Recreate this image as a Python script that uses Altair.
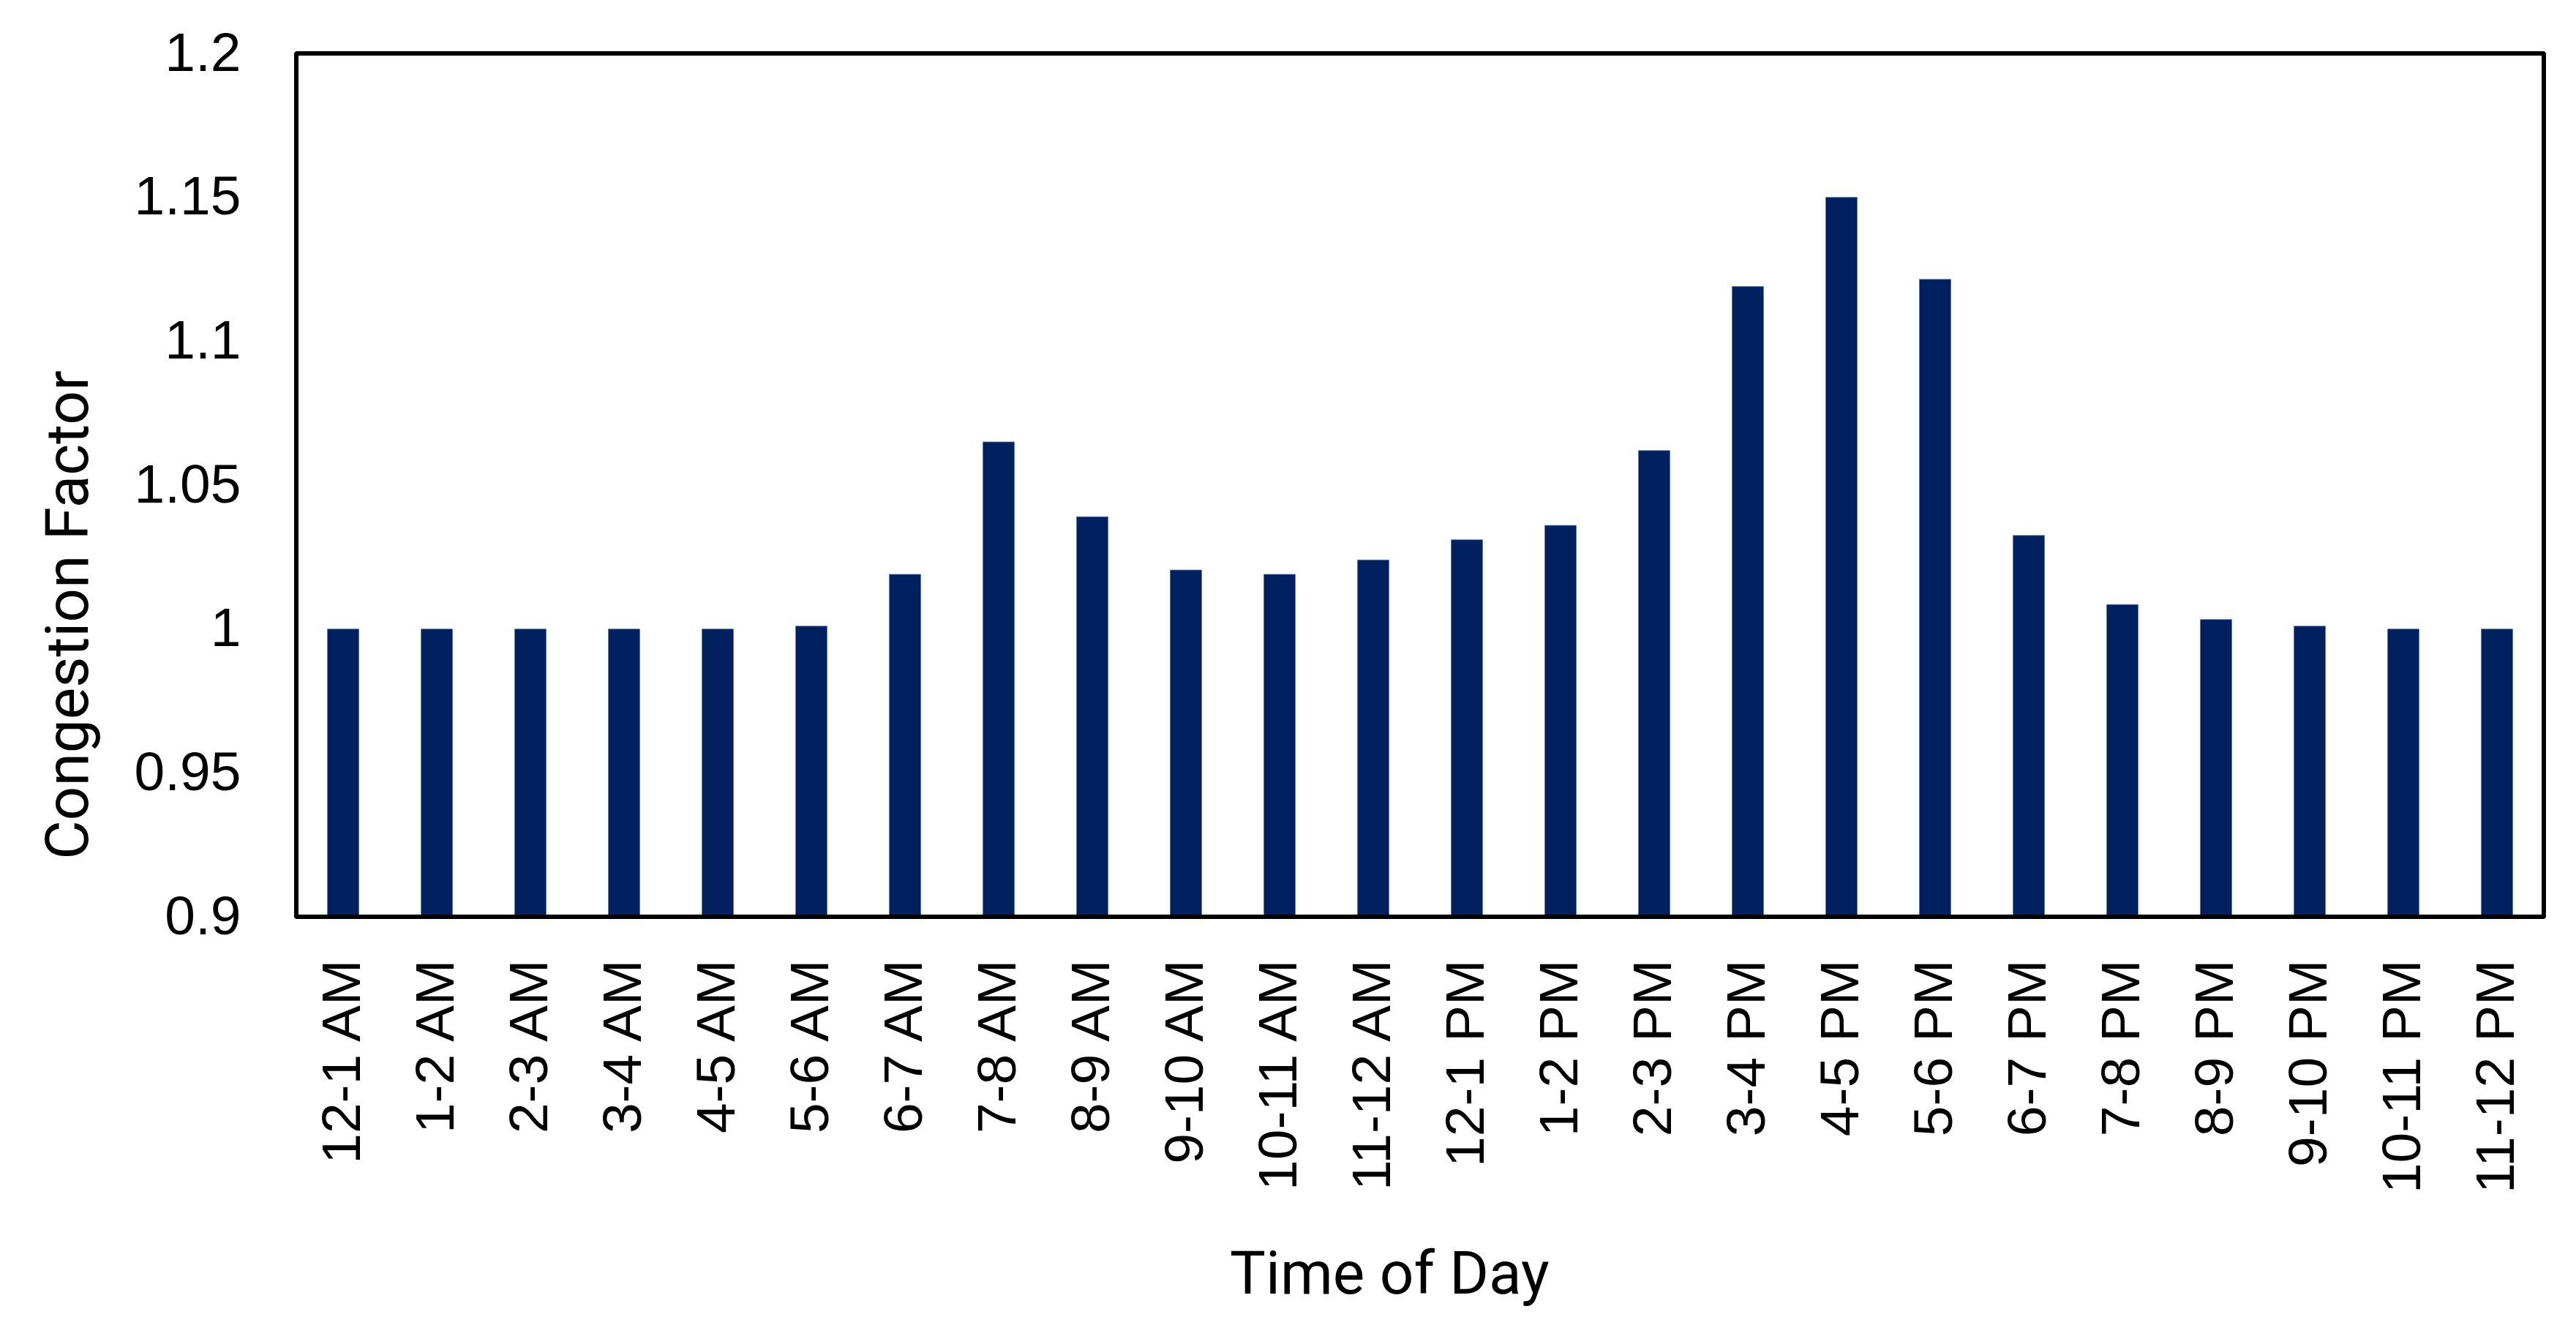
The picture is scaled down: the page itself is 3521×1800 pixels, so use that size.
import altair as alt
import pandas as pd

categories = ["12-1 AM", "1-2 AM", "2-3 AM", "3-4 AM", "4-5 AM", "5-6 AM",
              "6-7 AM", "7-8 AM", "8-9 AM", "9-10 AM", "10-11 AM", "11-12 AM",
              "12-1 PM", "1-2 PM", "2-3 PM", "3-4 PM", "4-5 PM", "5-6 PM",
              "6-7 PM", "7-8 PM", "8-9 PM", "9-10 PM", "10-11 PM", "11-12 PM"]
values = [1.000, 1.000, 1.000, 1.000, 1.000, 1.001,
          1.019, 1.065, 1.039, 1.0205, 1.019, 1.024,
          1.031, 1.036, 1.062, 1.119, 1.150, 1.1215,
          1.0325, 1.0085, 1.0033, 1.001, 1.000, 1.000]
y_ticks = [0.9, 0.95, 1.0, 1.05, 1.1, 1.15, 1.2]

df = pd.DataFrame({"time": categories, "factor": values})

bars = alt.Chart(df).mark_bar(color="#002060", stroke="#5a77a8", strokeWidth=0.8).encode(
    x=alt.X("time:N", sort=categories,
            scale=alt.Scale(paddingInner=0.664, paddingOuter=0.332),
            axis=alt.Axis(title="Time of Day", labelAngle=270, labelAlign="right",
                          labelBaseline="middle", labelPadding=58, ticks=False, labelLimit=0,
                          labelFont="Liberation Sans", labelFontSize=75, labelColor="black",
                          domainColor="#d9d9d9", domainWidth=3,
                          titleFont="Roboto", titleFontSize=82, titleFontWeight="normal",
                          titleColor="black", titleX=1494, titleY=514,
                          titleAlign="center", titleBaseline="alphabetic")),
    y=alt.Y("factor:Q",
            scale=alt.Scale(domain=[0.9, 1.2], zero=False, nice=False),
            axis=alt.Axis(title="Congestion Factor", values=y_ticks, format=".2~f",
                          grid=False, ticks=False, domain=False, labelPadding=76,
                          labelFont="Liberation Sans", labelFontSize=75, labelColor="black",
                          titleFont="Roboto", titleFontSize=82, titleFontWeight="normal",
                          titleColor="black", titleAngle=270, titleX=-311, titleY=767,
                          titleAlign="center", titleBaseline="middle")),
    y2=alt.datum(0.9),
)

frame = alt.Chart(df).mark_rect(fill="transparent", stroke="black", strokeWidth=6,
                                cornerRadius=2).encode(
    x=alt.value(0), x2=alt.value(3072), y=alt.value(0), y2=alt.value(1180)
)

chart = alt.layer(bars, frame).properties(
    width=3072, height=1180,
    autosize=alt.AutoSizeParams(type="none"),
    padding={"left": 397, "top": 65, "right": 30, "bottom": 536},
).configure_view(strokeWidth=0)

chart.save("out.html", embed_options={"renderer": "svg", "actions": False})
